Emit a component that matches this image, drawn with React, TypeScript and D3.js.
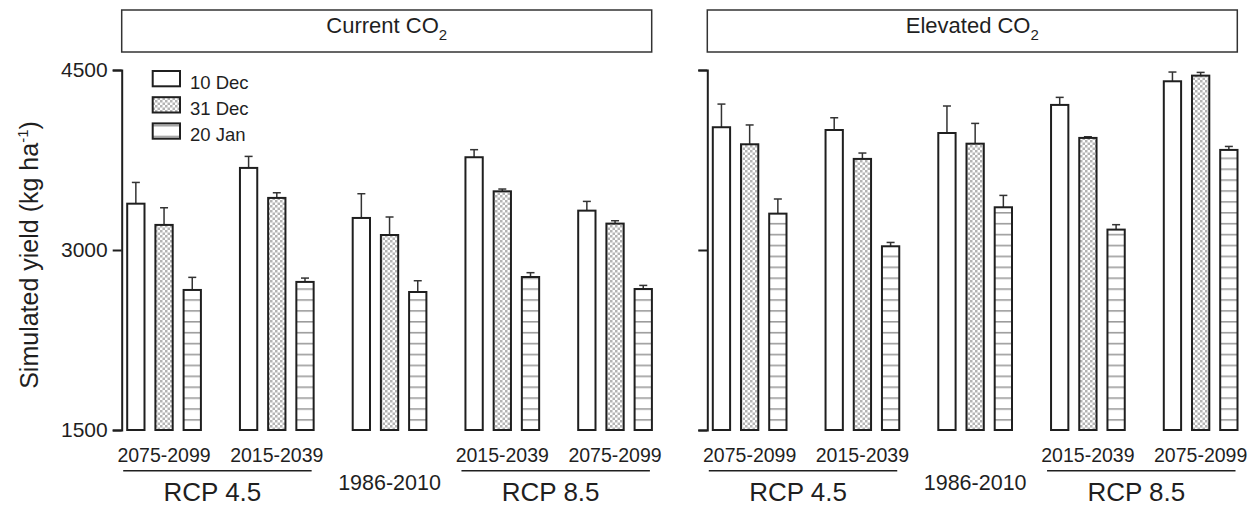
// App.tsx
import React, { useEffect, useRef } from "react";
import * as d3 from "d3";

// periods along the x axis (same order in both panels)
const groups = ["g1", "g2", "g3", "g4", "g5"];
const periodLabels = ["2075-2099", "2015-2039", "1986-2010", "2015-2039", "2075-2099"];
const series = ["10 Dec", "31 Dec", "20 Jan"];
const yTicks = [1500, 3000, 4500];

// Current CO2 - mean yield and standard error (kg/ha)
const currentDec10 = [3386, 3684, 3267, 3773, 3328];
const currentDec10Se = [177, 96, 202, 63, 77];
const currentDec31 = [3209, 3434, 3125, 3489, 3220];
const currentDec31Se = [143, 43, 150, 19, 24];
const currentJan20 = [2667, 2734, 2650, 2775, 2675];
const currentJan20Se = [105, 32, 94, 36, 30];

// Elevated CO2
const elevatedDec10 = [4023, 4000, 3975, 4209, 4406];
const elevatedDec10Se = [193, 102, 225, 63, 77];
const elevatedDec31 = [3881, 3759, 3886, 3934, 4453];
const elevatedDec31Se = [161, 49, 169, 10, 27];
const elevatedJan20 = [3303, 3031, 3356, 3170, 3834];
const elevatedJan20Se = [122, 32, 99, 41, 29];

const FONT = "'Liberation Sans', Arial, Helvetica, sans-serif";
const INK = "#1f1f1f";

const W = 1258;
const H = 509;
const top = 70;
const bottom = 430;

const y = d3.scaleLinear().domain([1500, 4500]).range([bottom, top]);

const fills = ["#ffffff", "url(#checker)", "url(#hlines)"];

type PanelProps = {
  axisX: number;
  title: string;
  means: number[][];
  ses: number[][];
  axisRef: React.RefObject<SVGGElement | null>;
};

const Panel = ({ axisX, title, means, ses, axisRef }: PanelProps) => {
  const x0 = d3
    .scaleBand()
    .domain(groups)
    .range([axisX + 4.5, axisX + 4.5 + 5 * 112.75]);
  const x1 = d3
    .scaleBand()
    .domain(series)
    .range([1, 74.7])
    .paddingInner(0.3865)
    .paddingOuter(0);
  const bw = x1.bandwidth();
  const groupEnd = (g: string) => (x0(g) as number) + (x1("20 Jan") as number) + bw + 1;

  return (
    <g>
      {/* header box */}
      <rect x={axisX} y={10} width={530} height={42} fill="#fff" stroke="#333" strokeWidth={1.5} />
      <text x={axisX + 265} y={33} textAnchor="middle" fontSize={22} fill={INK} fontFamily={FONT}>
        {title}
        <tspan fontSize={15} dy={7}>2</tspan>
      </text>

      <g ref={axisRef} transform={`translate(${axisX},0)`} />

      {groups.map((g, gi) =>
        series.map((s, si) => {
          const bx = (x0(g) as number) + (x1(s) as number);
          const v = means[si][gi];
          const e = v + ses[si][gi];
          const cx = bx + bw / 2;
          return (
            <g key={g + s}>
              <line x1={cx} x2={cx} y1={y(v)} y2={y(e)} stroke="#333" strokeWidth={1.5} />
              <line x1={cx - 4} x2={cx + 4} y1={y(e)} y2={y(e)} stroke="#333" strokeWidth={1.5} />
              <rect
                x={bx}
                y={y(v)}
                width={bw}
                height={y(1500) - y(v)}
                fill={fills[si]}
                stroke={INK}
                strokeWidth={2}
              />
            </g>
          );
        })
      )}

      {/* period labels */}
      {groups.map((g, gi) => {
        const cx = ((x0(g) as number) + groupEnd(g)) / 2;
        const mid = gi === 2;
        return (
          <text
            key={"l" + g}
            x={cx}
            y={mid ? 490 : 462}
            textAnchor="middle"
            fontSize={mid ? 21.5 : 19.5}
            fill={INK}
            fontFamily={FONT}
          >
            {periodLabels[gi]}
          </text>
        );
      })}

      {/* scenario underlines */}
      {[
        ["g1", "g2", "RCP 4.5"],
        ["g4", "g5", "RCP 8.5"],
      ].map(([a, b, lab]) => {
        const xa = (x0(a) as number) - 3;
        const xb = groupEnd(b) - 3;
        return (
          <g key={lab}>
            <line x1={xa} x2={xb} y1={470.7} y2={470.7} stroke={INK} strokeWidth={1.6} />
            <text x={(xa + xb) / 2 - 5} y={501} textAnchor="middle" fontSize={26} fill={INK} fontFamily={FONT}>
              {lab}
            </text>
          </g>
        );
      })}
    </g>
  );
};

const App = () => {
  const leftAxis = useRef<SVGGElement>(null);
  const rightAxis = useRef<SVGGElement>(null);

  useEffect(() => {
    const draw = (el: SVGGElement | null, labels: boolean) => {
      if (!el) return;
      const g = d3.select(el);
      g.selectAll("*").remove();
      g.call(
        d3
          .axisLeft(y)
          .tickValues(yTicks)
          .tickSize(9)
          .tickPadding(5)
          .tickFormat((d) => (labels ? String(d) : ""))
      );
      g.select(".domain").attr("stroke", INK).attr("stroke-width", 2);
      g.selectAll(".tick line").attr("stroke", INK).attr("stroke-width", 2);
      g.selectAll(".tick text")
        .attr("font-size", 21)
        .attr("font-family", FONT)
        .attr("fill", INK);
    };
    draw(leftAxis.current, true);
    draw(rightAxis.current, false);
  }, []);

  const legendX = 152.7;
  const legendY = [71, 97.2, 123.4];

  return (
    <svg width={W} height={H} style={{ position: "absolute", left: 0, top: 0, background: "#fff" }}>
      <defs>
        <pattern id="checker" patternUnits="userSpaceOnUse" width={5} height={5}>
          <rect width={5} height={5} fill="#ffffff" />
          <rect width={2.5} height={2.5} fill="#b4b4b4" />
          <rect x={2.5} y={2.5} width={2.5} height={2.5} fill="#b4b4b4" />
        </pattern>
        <pattern id="hlines" patternUnits="userSpaceOnUse" x={0} y={bottom} width={10} height={10.9}>
          <rect width={10} height={10.9} fill="#ffffff" />
          <line x1={0} x2={10} y1={0.8} y2={0.8} stroke="#9c9c9c" strokeWidth={1.6} />
        </pattern>
      </defs>

      <text
        transform="translate(38,255) rotate(-90)"
        textAnchor="middle"
        fontSize={25}
        fill={INK}
        fontFamily={FONT}
      >
        Simulated yield (kg ha
        <tspan fontSize={15} dy={-10}>-1</tspan>
        <tspan dy={10}>)</tspan>
      </text>

      <Panel
        axisX={121.7}
        title="Current CO"
        means={[currentDec10, currentDec31, currentJan20]}
        ses={[currentDec10Se, currentDec31Se, currentJan20Se]}
        axisRef={leftAxis}
      />
      <Panel
        axisX={707.3}
        title="Elevated CO"
        means={[elevatedDec10, elevatedDec31, elevatedJan20]}
        ses={[elevatedDec10Se, elevatedDec31Se, elevatedJan20Se]}
        axisRef={rightAxis}
      />

      {/* legend */}
      {series.map((s, i) => (
        <g key={"lg" + s}>
          <rect
            x={legendX}
            y={legendY[i]}
            width={27.3}
            height={15.3}
            fill={fills[i]}
            stroke={INK}
            strokeWidth={2}
          />
          <text x={190} y={legendY[i] + 18} fontSize={18.5} fill={INK} fontFamily={FONT}>
            {s}
          </text>
        </g>
      ))}
    </svg>
  );
};

export default App;
